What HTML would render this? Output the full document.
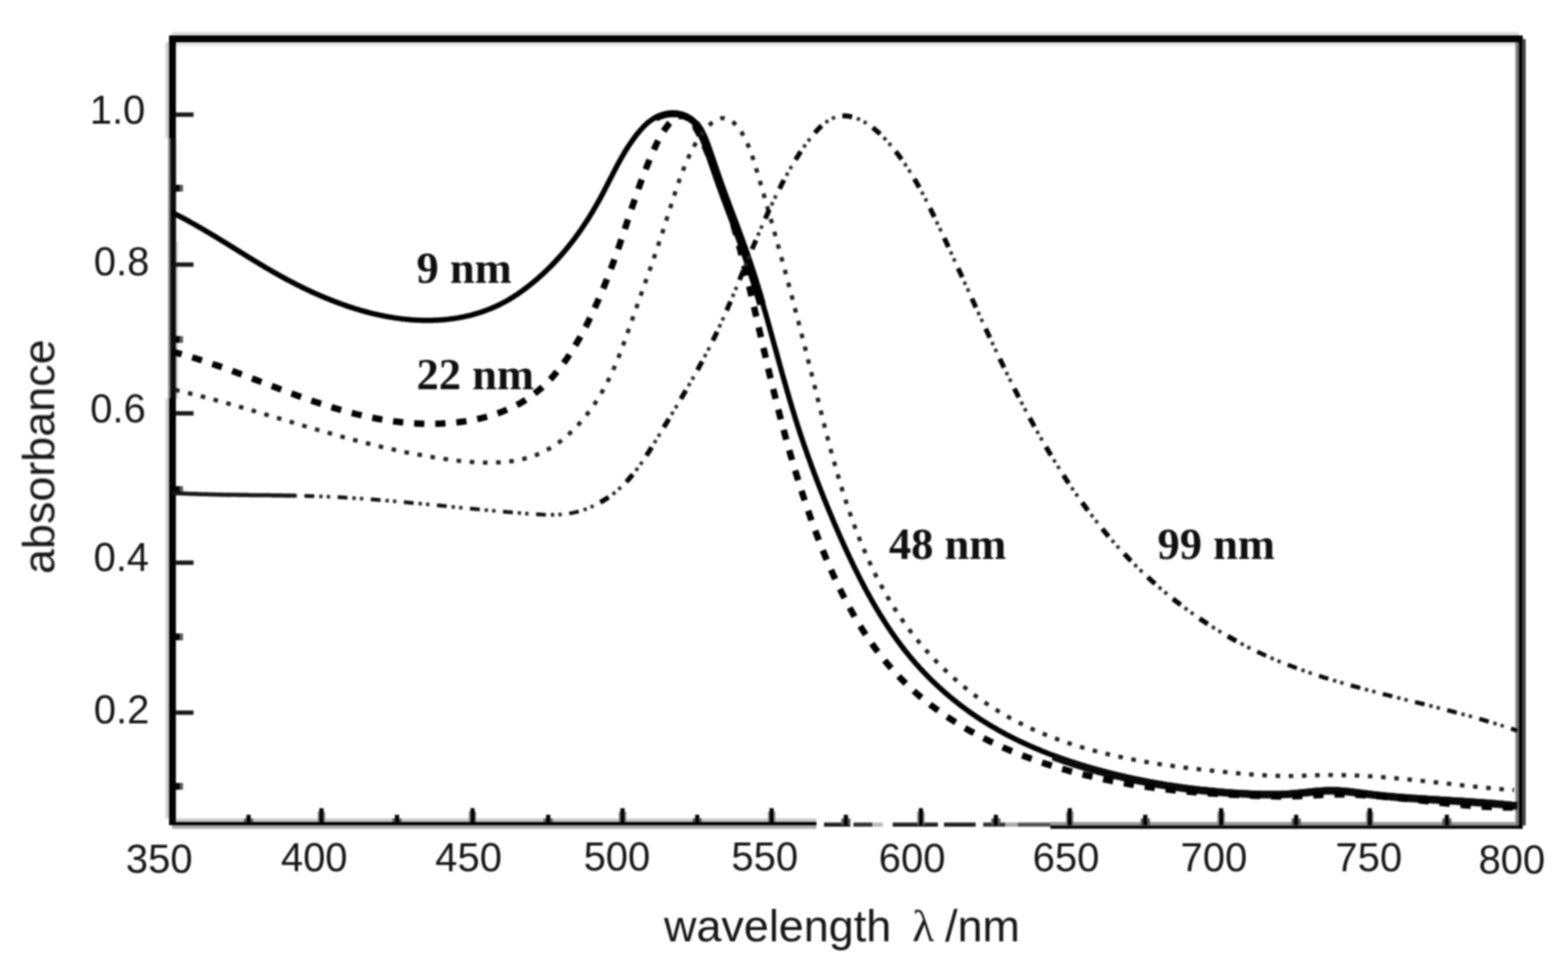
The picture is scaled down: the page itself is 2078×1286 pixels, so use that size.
<!DOCTYPE html>
<html lang="en">
<head>
<meta charset="utf-8">
<title>Absorbance spectra of gold nanoparticles</title>
<style>
html,body{margin:0;padding:0;background:#fff;}
body{width:2078px;height:1286px;overflow:hidden;}
svg{display:block;}
.tick{font-family:"Liberation Sans",sans-serif;font-size:53px;fill:#161616;}
.axl{font-family:"Liberation Sans",sans-serif;font-size:59.5px;fill:#161616;}
.lab{font-family:"Liberation Serif",serif;font-weight:bold;font-size:59px;fill:#101010;}
</style>
</head>
<body>
<svg width="2078" height="1286" viewBox="0 0 2078 1286">
<defs>
<filter id="soft" x="0" y="0" width="2078" height="1286" filterUnits="userSpaceOnUse" color-interpolation-filters="sRGB">
<feGaussianBlur stdDeviation="1.2"/>
</filter>
</defs>
<rect width="2078" height="1286" fill="#fff"/>
<g id="chart" filter="url(#soft)">

<g id="frame">
<rect x="228.0" y="42.3" width="1785.0" height="4.7" fill="#dcdcdc"/>
<rect x="233.0" y="56.0" width="1775.4" height="4.7" fill="#e4e4e4"/>
<rect x="224.1" y="47.0" width="1793.7" height="9.0" fill="#000"/>
<rect x="219.4" y="56.0" width="4.7" height="127.0" fill="#cfcfcf"/>
<rect x="219.4" y="528.0" width="4.7" height="557.0" fill="#cfcfcf"/>
<rect x="224.1" y="47.0" width="9.0" height="136.0" fill="#000"/>
<rect x="224.1" y="528.0" width="9.0" height="566.0" fill="#000"/>
<rect x="222.8" y="183.0" width="2.8" height="345.0" fill="#8a8a8a"/>
<rect x="225.6" y="183.0" width="7.7" height="345.0" fill="#0c0c0c"/>
<rect x="233.3" y="320.0" width="2.3" height="208.0" fill="#c4c4c4"/>
<rect x="2008.4" y="56.0" width="4.6" height="1038.4" fill="#7a7a7a"/>
<rect x="2013.0" y="47.0" width="4.8" height="1051.7" fill="#000"/>
<rect x="2017.8" y="51.7" width="4.2" height="1042.7" fill="#464646"/>
<rect x="233.1" y="1085.0" width="848.9" height="4.7" fill="#cccccc"/>
<rect x="224.1" y="1089.7" width="857.9" height="4.3" fill="#000"/>
<rect x="228.0" y="1094.0" width="854.0" height="4.7" fill="#aaaaaa"/>
<rect x="1092.0" y="1090.5" width="35.0" height="5.5" fill="#222"/>
<rect x="1131.0" y="1090.5" width="25.0" height="5.5" fill="#333"/>
<rect x="1156.0" y="1090.5" width="14.0" height="5.5" fill="#bbb"/>
<rect x="1183.0" y="1090.5" width="60.0" height="5.5" fill="#222"/>
<rect x="1251.0" y="1090.5" width="42.0" height="5.5" fill="#222"/>
<rect x="1303.0" y="1090.5" width="29.0" height="5.5" fill="#333"/>
<rect x="1332.0" y="1090.5" width="17.0" height="5.5" fill="#aaa"/>
<rect x="1349.0" y="1090.5" width="43.0" height="5.5" fill="#555"/>
<rect x="1392.0" y="1089.7" width="616.4" height="4.7" fill="#999999"/>
<rect x="1392.0" y="1094.4" width="625.8" height="4.3" fill="#000"/>
</g>
<g id="ticks">
<rect x="326.6" y="1080.2" width="5.6" height="9.8" fill="#000"/>
<rect x="323.4" y="1085.0" width="3.2" height="5.0" fill="#555"/>
<rect x="332.2" y="1085.0" width="3.2" height="5.0" fill="#555"/>
<rect x="423.2" y="1071.5" width="5.6" height="18.5" fill="#000"/>
<rect x="421.2" y="1076.0" width="2.0" height="14.0" fill="#777"/>
<rect x="428.8" y="1076.0" width="2.0" height="14.0" fill="#777"/>
<rect x="523.3" y="1080.2" width="5.6" height="9.8" fill="#000"/>
<rect x="520.1" y="1085.0" width="3.2" height="5.0" fill="#555"/>
<rect x="528.9" y="1085.0" width="3.2" height="5.0" fill="#555"/>
<rect x="623.4" y="1071.5" width="5.6" height="18.5" fill="#000"/>
<rect x="621.4" y="1076.0" width="2.0" height="14.0" fill="#777"/>
<rect x="629.0" y="1076.0" width="2.0" height="14.0" fill="#777"/>
<rect x="723.7" y="1080.2" width="5.6" height="9.8" fill="#000"/>
<rect x="720.5" y="1085.0" width="3.2" height="5.0" fill="#555"/>
<rect x="729.3" y="1085.0" width="3.2" height="5.0" fill="#555"/>
<rect x="822.2" y="1071.5" width="5.6" height="18.5" fill="#000"/>
<rect x="820.2" y="1076.0" width="2.0" height="14.0" fill="#777"/>
<rect x="827.8" y="1076.0" width="2.0" height="14.0" fill="#777"/>
<rect x="921.2" y="1080.2" width="5.6" height="9.8" fill="#000"/>
<rect x="918.0" y="1085.0" width="3.2" height="5.0" fill="#555"/>
<rect x="926.8" y="1085.0" width="3.2" height="5.0" fill="#555"/>
<rect x="1019.8" y="1071.5" width="5.6" height="18.5" fill="#000"/>
<rect x="1017.8" y="1076.0" width="2.0" height="14.0" fill="#777"/>
<rect x="1025.4" y="1076.0" width="2.0" height="14.0" fill="#777"/>
<rect x="1118.2" y="1080.2" width="5.6" height="13.8" fill="#000"/>
<rect x="1115.0" y="1085.0" width="3.2" height="9.0" fill="#555"/>
<rect x="1123.8" y="1085.0" width="3.2" height="9.0" fill="#555"/>
<rect x="1217.6" y="1071.5" width="5.6" height="22.5" fill="#000"/>
<rect x="1215.6" y="1076.0" width="2.0" height="18.0" fill="#777"/>
<rect x="1223.2" y="1076.0" width="2.0" height="18.0" fill="#777"/>
<rect x="1317.0" y="1080.2" width="5.6" height="13.8" fill="#000"/>
<rect x="1313.8" y="1085.0" width="3.2" height="9.0" fill="#555"/>
<rect x="1322.6" y="1085.0" width="3.2" height="9.0" fill="#555"/>
<rect x="1414.9" y="1071.5" width="5.6" height="22.5" fill="#000"/>
<rect x="1412.9" y="1076.0" width="2.0" height="18.0" fill="#777"/>
<rect x="1420.5" y="1076.0" width="2.0" height="18.0" fill="#777"/>
<rect x="1515.0" y="1080.2" width="5.6" height="13.8" fill="#000"/>
<rect x="1511.8" y="1085.0" width="3.2" height="9.0" fill="#555"/>
<rect x="1520.6" y="1085.0" width="3.2" height="9.0" fill="#555"/>
<rect x="1615.5" y="1071.5" width="5.6" height="22.5" fill="#000"/>
<rect x="1613.5" y="1076.0" width="2.0" height="18.0" fill="#777"/>
<rect x="1621.1" y="1076.0" width="2.0" height="18.0" fill="#777"/>
<rect x="1714.9" y="1080.2" width="5.6" height="13.8" fill="#000"/>
<rect x="1711.7" y="1085.0" width="3.2" height="9.0" fill="#555"/>
<rect x="1720.5" y="1085.0" width="3.2" height="9.0" fill="#555"/>
<rect x="1812.5" y="1071.5" width="5.6" height="22.5" fill="#000"/>
<rect x="1810.5" y="1076.0" width="2.0" height="18.0" fill="#777"/>
<rect x="1818.1" y="1076.0" width="2.0" height="18.0" fill="#777"/>
<rect x="1914.6" y="1080.2" width="5.6" height="13.8" fill="#000"/>
<rect x="1911.4" y="1085.0" width="3.2" height="9.0" fill="#555"/>
<rect x="1920.2" y="1085.0" width="3.2" height="9.0" fill="#555"/>
<rect x="233.1" y="1038.0" width="5.4" height="9.0" fill="#000"/>
<rect x="238.5" y="1038.0" width="4.0" height="9.0" fill="#555"/>
<rect x="233.1" y="941.9" width="23.4" height="5.8" fill="#1a1a1a"/>
<rect x="233.1" y="839.8" width="5.4" height="9.0" fill="#000"/>
<rect x="238.5" y="839.8" width="4.0" height="9.0" fill="#555"/>
<rect x="233.1" y="743.1" width="23.4" height="5.8" fill="#1a1a1a"/>
<rect x="233.1" y="644.5" width="5.4" height="9.0" fill="#000"/>
<rect x="238.5" y="644.5" width="4.0" height="9.0" fill="#555"/>
<rect x="233.1" y="545.1" width="23.4" height="5.8" fill="#1a1a1a"/>
<rect x="233.1" y="445.5" width="5.4" height="9.0" fill="#000"/>
<rect x="238.5" y="445.5" width="4.0" height="9.0" fill="#555"/>
<rect x="233.1" y="347.9" width="23.4" height="5.8" fill="#1a1a1a"/>
<rect x="233.1" y="245.0" width="5.4" height="9.0" fill="#000"/>
<rect x="238.5" y="245.0" width="4.0" height="9.0" fill="#555"/>
<rect x="233.1" y="149.1" width="23.4" height="5.8" fill="#1a1a1a"/>
</g>
<g class="tick">
<text x="211.0" y="1157" text-anchor="middle">350</text>
<text x="416.4" y="1155" text-anchor="middle">400</text>
<text x="621.0" y="1155" text-anchor="middle">450</text>
<text x="817.6" y="1154" text-anchor="middle">500</text>
<text x="1013.5" y="1154" text-anchor="middle">550</text>
<text x="1208.7" y="1156" text-anchor="middle">600</text>
<text x="1412.7" y="1155" text-anchor="middle">650</text>
<text x="1608.8" y="1155" text-anchor="middle">700</text>
<text x="1814.0" y="1155" text-anchor="middle">750</text>
<text x="2003.6" y="1158" text-anchor="middle">800</text>
<text x="192.6" y="164.0" text-anchor="end">1.0</text>
<text x="198.0" y="365.0" text-anchor="end">0.8</text>
<text x="193.3" y="559.5" text-anchor="end">0.6</text>
<text x="197.6" y="756.5" text-anchor="end">0.4</text>
<text x="198.0" y="958.5" text-anchor="end">0.2</text>
</g>
<text class="axl" transform="translate(71.8,605.5) rotate(-90)" text-anchor="middle">absorbance</text>
<text class="axl" y="1248"><tspan x="880">wavelength</tspan><tspan> </tspan><tspan x="1209" font-family="'Liberation Serif',serif" font-size="60px">λ</tspan><tspan> </tspan><tspan x="1252.5">/nm</tspan></text>
<g id="curves" fill="none" stroke="#000" stroke-linejoin="round">
<path d="M227.8,281.6 L229.8,282.5 L231.7,283.5 L233.6,284.5 L235.5,285.5 L237.4,286.4 L239.3,287.4 L241.2,288.4 L243.0,289.4 L244.9,290.4 L246.8,291.4 L248.6,292.4 L250.5,293.4 L252.3,294.5 L254.1,295.5 L256.0,296.5 L257.8,297.5 L259.6,298.6 L261.4,299.6 L263.2,300.6 L265.1,301.7 L266.9,302.7 L268.6,303.8 L270.4,304.8 L272.2,305.9 L274.0,306.9 L275.8,308.0 L277.6,309.0 L279.3,310.1 L281.1,311.2 L282.9,312.2 L284.6,313.3 L286.4,314.3 L288.1,315.4 L289.9,316.5 L291.6,317.6 L293.4,318.6 L295.1,319.7 L296.9,320.8 L298.6,321.9 L300.4,322.9 L302.1,324.0 L303.8,325.1 L305.6,326.2 L307.3,327.2 L309.1,328.3 L310.8,329.4 L312.5,330.5 L314.2,331.5 L316.0,332.6 L317.7,333.7 L319.4,334.8 L321.2,335.8 L322.9,336.9 L324.6,338.0 L326.4,339.1 L328.1,340.1 L329.8,341.2 L331.6,342.3 L333.3,343.3 L335.1,344.4 L336.8,345.5 L338.5,346.5 L340.3,347.6 L342.0,348.6 L343.8,349.7 L345.5,350.7 L347.3,351.8 L349.0,352.8 L350.8,353.9 L352.5,354.9 L354.3,356.0 L356.1,357.0 L357.8,358.0 L359.6,359.0 L361.4,360.1 L363.2,361.1 L365.0,362.1 L366.8,363.1 L368.5,364.1 L370.3,365.1 L372.1,366.1 L374.0,367.1 L375.8,368.1 L377.6,369.1 L379.4,370.1 L381.2,371.1 L383.1,372.0 L384.9,373.0 L386.7,374.0 L388.6,374.9 L390.4,375.9 L392.3,376.8 L394.2,377.8 L396.0,378.7 L397.9,379.6 L399.8,380.6 L401.6,381.5 L403.5,382.4 L405.4,383.3 L407.3,384.2 L409.2,385.1 L411.1,386.0 L413.0,386.9 L414.9,387.7 L416.8,388.6 L418.7,389.5 L420.6,390.3 L422.5,391.1 L424.5,392.0 L426.4,392.8 L428.3,393.6 L430.3,394.4 L432.2,395.2 L434.1,396.0 L436.1,396.8 L438.0,397.6 L440.0,398.4 L441.9,399.1 L443.9,399.9 L445.9,400.6 L447.8,401.4 L449.8,402.1 L451.7,402.8 L453.7,403.5 L455.7,404.2 L457.7,404.9 L459.6,405.6 L461.6,406.3 L463.6,406.9 L465.6,407.6 L467.6,408.2 L469.6,408.9 L471.6,409.5 L473.6,410.1 L475.6,410.7 L477.6,411.3 L479.6,411.8 L481.6,412.4 L483.6,413.0 L485.6,413.5 L487.6,414.0 L489.6,414.6 L491.6,415.1 L493.7,415.6 L495.7,416.1 L497.7,416.5 L499.7,417.0 L501.7,417.4 L503.8,417.9 L505.8,418.3 L507.8,418.7 L509.9,419.1 L511.9,419.5 L513.9,419.9 L516.0,420.3 L518.0,420.6 L520.0,420.9 L522.1,421.3 L524.1,421.6 L526.2,421.9 L528.2,422.1 L530.2,422.4 L532.3,422.7 L534.3,422.9 L536.4,423.1 L538.4,423.4 L540.5,423.5 L542.5,423.7 L544.5,423.9 L546.6,424.1 L548.6,424.2 L550.7,424.3 L552.7,424.4 L554.8,424.5 L556.8,424.6 L558.9,424.7 L560.9,424.7 L563.0,424.7 L565.0,424.8 L567.1,424.8 L569.1,424.7 L571.2,424.7 L573.2,424.7 L575.3,424.6 L577.3,424.5 L579.4,424.4 L581.4,424.3 L583.5,424.2 L585.5,424.0 L587.6,423.9 L589.6,423.7 L591.6,423.5 L593.7,423.3 L595.7,423.0 L597.7,422.8 L599.8,422.5 L601.8,422.2 L603.8,421.9 L605.8,421.6 L607.9,421.2 L609.9,420.9 L611.9,420.5 L613.9,420.1 L615.9,419.7 L617.9,419.2 L619.9,418.8 L621.9,418.3 L623.9,417.8 L625.9,417.3 L627.8,416.7 L629.8,416.2 L631.8,415.6 L633.7,415.0 L635.7,414.4 L637.7,413.8 L639.6,413.1 L641.6,412.4 L643.5,411.7 L645.4,411.0 L647.3,410.3 L649.3,409.5 L651.2,408.7 L653.1,407.9 L655.0,407.1 L656.9,406.3 L658.8,405.4 L660.6,404.5 L662.5,403.6 L664.4,402.7 L666.2,401.7 L668.1,400.7 L669.9,399.7 L671.7,398.7 L673.5,397.7 L675.4,396.6 L677.2,395.5 L679.0,394.4 L680.7,393.3 L682.5,392.1 L684.3,391.0 L686.1,389.8 L687.8,388.6 L689.5,387.4 L691.3,386.2 L693.0,384.9 L694.7,383.7 L696.4,382.4 L698.1,381.1 L699.8,379.8 L701.4,378.5 L703.1,377.2 L704.7,375.9 L706.4,374.5 L708.0,373.2 L709.6,371.8 L711.2,370.5 L712.8,369.1 L714.3,367.7 L715.9,366.3 L717.5,364.9 L719.0,363.5 L720.5,362.1 L722.0,360.7 L723.6,359.3 L725.0,357.8 L726.5,356.4 L728.0,354.9 L729.5,353.5 L730.9,352.0 L732.4,350.5 L733.8,349.0 L735.2,347.5 L736.6,346.0 L738.0,344.5 L739.4,343.0 L740.8,341.5 L742.2,339.9 L743.5,338.4 L744.9,336.9 L746.2,335.3 L747.5,333.7 L748.9,332.2 L750.2,330.6 L751.5,329.0 L752.8,327.4 L754.1,325.8 L755.3,324.2 L756.6,322.6 L757.9,321.0 L759.1,319.4 L760.3,317.8 L761.6,316.1 L762.8,314.5 L764.0,312.8 L765.2,311.2 L766.4,309.5 L767.6,307.8 L768.8,306.2 L769.9,304.5 L771.1,302.8 L772.2,301.1 L773.4,299.4 L774.5,297.7 L775.6,296.0 L776.8,294.3 L777.9,292.5 L779.0,290.8 L780.1,289.1 L781.2,287.3 L782.2,285.6 L783.3,283.8 L784.4,282.1 L785.5,280.3 L786.5,278.5 L787.5,276.7 L788.6,275.0 L789.6,273.2 L790.6,271.4 L791.7,269.6 L792.7,267.8 L793.7,266.0 L794.7,264.2 L795.7,262.3 L796.7,260.5 L797.6,258.7 L798.6,256.9 L799.6,255.0 L800.5,253.2 L801.5,251.3 L802.4,249.5 L803.4,247.6 L804.3,245.8 L805.3,243.9 L806.2,242.1 L807.2,240.2 L808.1,238.4 L809.1,236.5 L810.0,234.7 L811.0,232.8 L811.9,230.9 L812.9,229.1 L813.8,227.2 L814.8,225.4 L815.8,223.5 L816.7,221.7 L817.7,219.8 L818.7,218.0 L819.7,216.2 L820.7,214.3 L821.7,212.5 L822.7,210.7 L823.7,208.9 L824.8,207.1 L825.8,205.3 L826.9,203.5 L827.9,201.7 L829.0,199.9 L830.1,198.2 L831.2,196.4 L832.3,194.6 L833.5,192.9 L834.6,191.2 L835.8,189.5 L837.0,187.7 L838.2,186.0 L839.4,184.4 L840.6,182.7 L841.9,181.0 L843.1,179.4 L844.4,177.7 L845.8,176.1 L847.1,174.5 L848.5,172.9 L849.8,171.3 L851.2,169.8 L852.7,168.2 L854.1,166.8 L855.6,165.3 L857.2,163.9 L858.7,162.5 L860.4,161.2 L862.0,160.0 L863.7,158.8 L865.4,157.6 L867.2,156.6 L869.0,155.6 L870.8,154.6 L872.7,153.8 L874.6,153.0 L876.6,152.3 L878.5,151.7 L880.5,151.1 L882.5,150.7 L884.5,150.3 L886.5,150.0 L888.5,149.8 L890.5,149.7 L892.4,149.7 L894.4,149.7 L896.4,149.9 L898.3,150.1 L900.3,150.5 L902.2,150.9 L904.1,151.4 L905.9,152.1 L907.7,152.8 L909.5,153.5 L911.2,154.4 L912.9,155.4 L914.5,156.4 L916.1,157.5 L917.6,158.7 L919.1,160.0 L920.5,161.3 L921.8,162.7 L923.1,164.2 L924.3,165.7 L925.5,167.3 L926.7,169.0 L927.8,170.7 L928.9,172.4 L929.9,174.2 L930.9,176.0 L931.8,177.9 L932.7,179.8 L933.6,181.7 L934.5,183.7 L935.3,185.7 L936.1,187.7 L936.9,189.7 L937.7,191.7 L938.4,193.8 L939.2,195.8 L939.9,197.9 L940.6,199.9 L941.3,202.0 L942.0,204.0 L942.7,206.0 L943.4,208.0 L944.1,210.0 L944.8,212.0 L945.4,214.0 L946.1,216.0 L946.8,218.0 L947.5,219.9 L948.1,221.9 L948.8,223.9 L949.5,225.8 L950.1,227.7 L950.8,229.7 L951.5,231.6 L952.2,233.5 L952.8,235.5 L953.5,237.4 L954.2,239.3 L954.9,241.2 L955.5,243.1 L956.2,245.1 L956.9,247.0 L957.6,248.9 L958.3,250.8 L959.0,252.8 L959.7,254.7 L960.4,256.6 L961.1,258.5 L961.8,260.5 L962.5,262.4 L963.2,264.3 L964.0,266.2 L964.7,268.2 L965.4,270.1 L966.1,272.0 L966.8,274.0 L967.6,275.9 L968.3,277.8 L969.0,279.8 L969.7,281.7 L970.5,283.6 L971.2,285.6 L971.9,287.5 L972.6,289.4 L973.4,291.4 L974.1,293.3 L974.8,295.3 L975.6,297.2 L976.3,299.1 L977.0,301.1 L977.7,303.0 L978.5,305.0 L979.2,306.9 L979.9,308.9 L980.6,310.8 L981.3,312.8 L982.1,314.7 L982.8,316.7 L983.5,318.6 L984.2,320.6 L984.9,322.5 L985.6,324.5 L986.3,326.4 L987.0,328.4 L987.7,330.3 L988.4,332.3 L989.1,334.2 L989.8,336.2 L990.5,338.2 L991.1,340.1 L991.8,342.1 L992.5,344.0 L993.2,346.0 L993.8,348.0 L994.5,349.9 L995.1,351.9 L995.8,353.9 L996.4,355.8 L997.1,357.8 L997.7,359.8 L998.4,361.7 L999.0,363.7 L999.6,365.7 L1000.2,367.7 L1000.9,369.6 L1001.5,371.6 L1002.1,373.6 L1002.7,375.5 L1003.3,377.5 L1003.9,379.5 L1004.5,381.5 L1005.1,383.4 L1005.7,385.4 L1006.3,387.4 L1006.9,389.4 L1007.5,391.4 L1008.1,393.3 L1008.7,395.3 L1009.3,397.3 L1009.9,399.3 L1010.4,401.3 L1011.0,403.2 L1011.6,405.2 L1012.2,407.2 L1012.7,409.2 L1013.3,411.2 L1013.9,413.2 L1014.5,415.1 L1015.0,417.1 L1015.6,419.1 L1016.1,421.1 L1016.7,423.1 L1017.3,425.1 L1017.8,427.1 L1018.4,429.0 L1018.9,431.0 L1019.5,433.0 L1020.0,435.0 L1020.6,437.0 L1021.1,439.0 L1021.7,441.0 L1022.2,443.0 L1022.8,444.9 L1023.3,446.9 L1023.9,448.9 L1024.4,450.9 L1025.0,452.9 L1025.5,454.9 L1026.1,456.9 L1026.6,458.9 L1027.2,460.9 L1027.7,462.9 L1028.3,464.8 L1028.8,466.8 L1029.4,468.8 L1029.9,470.8 L1030.4,472.8 L1031.0,474.8 L1031.5,476.8 L1032.1,478.8 L1032.6,480.8 L1033.2,482.8 L1033.7,484.7 L1034.3,486.7 L1034.8,488.7 L1035.4,490.7 L1035.9,492.7 L1036.5,494.7 L1037.0,496.7 L1037.6,498.7 L1038.2,500.7 L1038.7,502.7 L1039.3,504.6 L1039.8,506.6 L1040.4,508.6 L1041.0,510.6 L1041.5,512.6 L1042.1,514.6 L1042.7,516.6 L1043.2,518.6 L1043.8,520.5 L1044.4,522.5 L1045.0,524.5 L1045.5,526.5 L1046.1,528.5 L1046.7,530.5 L1047.3,532.5 L1047.9,534.4 L1048.5,536.4 L1049.1,538.4 L1049.7,540.4 L1050.3,542.4 L1050.9,544.3 L1051.5,546.3 L1052.1,548.3 L1052.7,550.3 L1053.3,552.3 L1053.9,554.3 L1054.5,556.2 L1055.1,558.2 L1055.8,560.2 L1056.4,562.2 L1057.0,564.1 L1057.7,566.1 L1058.3,568.1 L1058.9,570.1 L1059.6,572.0 L1060.2,574.0 L1060.9,576.0 L1061.5,578.0 L1062.2,579.9 L1062.9,581.9 L1063.5,583.9 L1064.2,585.8 L1064.9,587.8 L1065.5,589.8 L1066.2,591.7 L1066.9,593.7 L1067.6,595.7 L1068.3,597.6 L1069.0,599.6 L1069.7,601.6 L1070.3,603.5 L1071.0,605.5 L1071.8,607.4 L1072.5,609.4 L1073.2,611.4 L1073.9,613.3 L1074.6,615.3 L1075.3,617.2 L1076.0,619.2 L1076.7,621.1 L1077.5,623.1 L1078.2,625.0 L1078.9,627.0 L1079.7,628.9 L1080.4,630.9 L1081.1,632.8 L1081.9,634.8 L1082.6,636.7 L1083.4,638.7 L1084.1,640.6 L1084.9,642.5 L1085.6,644.5 L1086.4,646.4 L1087.1,648.4 L1087.9,650.3 L1088.7,652.2 L1089.4,654.2 L1090.2,656.1 L1091.0,658.0 L1091.7,660.0 L1092.5,661.9 L1093.3,663.8 L1094.1,665.7 L1094.9,667.7 L1095.6,669.6 L1096.4,671.5 L1097.2,673.4 L1098.0,675.4 L1098.8,677.3 L1099.6,679.2 L1100.4,681.1 L1101.2,683.0 L1102.0,684.9 L1102.8,686.8 L1103.6,688.8 L1104.4,690.7 L1105.2,692.6 L1106.0,694.5 L1106.9,696.4 L1107.7,698.3 L1108.5,700.2 L1109.3,702.1 L1110.1,704.0 L1111.0,705.9 L1111.8,707.8 L1112.6,709.7 L1113.5,711.6 L1114.3,713.5 L1115.1,715.3 L1116.0,717.2 L1116.8,719.1 L1117.7,721.0 L1118.5,722.9 L1119.4,724.8 L1120.2,726.6 L1121.1,728.5 L1122.0,730.4 L1122.8,732.3 L1123.7,734.1 L1124.6,736.0 L1125.5,737.9 L1126.3,739.7 L1127.2,741.6 L1128.1,743.5 L1129.0,745.3 L1129.9,747.2 L1130.8,749.0 L1131.7,750.9 L1132.6,752.7 L1133.5,754.6 L1134.4,756.4 L1135.3,758.3 L1136.3,760.1 L1137.2,762.0 L1138.1,763.8 L1139.0,765.7 L1140.0,767.5 L1140.9,769.3 L1141.9,771.2 L1142.8,773.0 L1143.8,774.8 L1144.7,776.6 L1145.7,778.5 L1146.7,780.3 L1147.6,782.1 L1148.6,783.9 L1149.6,785.7 L1150.6,787.5 L1151.6,789.3 L1152.6,791.1 L1153.6,792.9 L1154.6,794.7 L1155.6,796.5 L1156.6,798.3 L1157.6,800.1 L1158.7,801.9 L1159.7,803.6 L1160.7,805.4 L1161.8,807.2 L1162.8,808.9 L1163.9,810.7 L1165.0,812.5 L1166.0,814.2 L1167.1,816.0 L1168.2,817.7 L1169.3,819.5 L1170.4,821.2 L1171.5,822.9 L1172.6,824.7 L1173.7,826.4 L1174.8,828.1 L1175.9,829.8 L1177.1,831.6 L1178.2,833.3 L1179.4,835.0 L1180.5,836.7 L1181.7,838.4 L1182.9,840.1 L1184.0,841.7 L1185.2,843.4 L1186.4,845.1 L1187.6,846.8 L1188.8,848.4 L1190.0,850.1 L1191.2,851.8 L1192.5,853.4 L1193.7,855.1 L1194.9,856.7 L1196.2,858.3 L1197.5,860.0 L1198.7,861.6 L1200.0,863.2 L1201.3,864.8 L1202.6,866.4 L1203.9,868.0 L1205.2,869.6 L1206.5,871.2 L1207.8,872.8 L1209.2,874.4 L1210.5,875.9 L1211.8,877.5 L1213.2,879.1 L1214.6,880.6 L1215.9,882.2 L1217.3,883.7 L1218.7,885.3 L1220.1,886.8 L1221.5,888.3 L1223.0,889.8 L1224.4,891.3 L1225.8,892.8 L1227.3,894.3 L1228.7,895.8 L1230.2,897.3 L1231.6,898.8 L1233.1,900.2 L1234.6,901.7 L1236.1,903.2 L1237.6,904.6 L1239.1,906.0 L1240.6,907.5 L1242.1,908.9 L1243.6,910.3 L1245.2,911.7 L1246.7,913.1 L1248.3,914.5 L1249.8,915.9 L1251.4,917.3 L1252.9,918.7 L1254.5,920.0 L1256.1,921.4 L1257.7,922.7 L1259.3,924.1 L1260.9,925.4 L1262.5,926.7 L1264.1,928.0 L1265.7,929.3 L1267.4,930.6 L1269.0,931.9 L1270.6,933.2 L1272.3,934.5 L1273.9,935.8 L1275.6,937.0 L1277.3,938.3 L1278.9,939.5 L1280.6,940.7 L1282.3,942.0 L1284.0,943.2 L1285.7,944.4 L1287.4,945.6 L1289.1,946.8 L1290.8,947.9 L1292.5,949.1 L1294.2,950.3 L1296.0,951.4 L1297.7,952.6 L1299.4,953.7 L1301.2,954.8 L1302.9,955.9 L1304.7,957.0 L1306.4,958.1 L1308.2,959.2 L1309.9,960.3 L1311.7,961.4 L1313.5,962.4 L1315.3,963.5 L1317.1,964.5 L1318.9,965.6 L1320.6,966.6 L1322.4,967.6 L1324.2,968.6 L1326.1,969.6 L1327.9,970.6 L1329.7,971.6 L1331.5,972.6 L1333.3,973.6 L1335.2,974.6 L1337.0,975.5 L1338.8,976.5 L1340.7,977.4 L1342.5,978.3 L1344.4,979.3 L1346.2,980.2 L1348.1,981.1 L1350.0,982.0 L1351.8,982.9 L1353.7,983.8 L1355.6,984.6 L1357.4,985.5 L1359.3,986.4 L1361.2,987.2 L1363.1,988.1 L1365.0,988.9 L1366.9,989.8 L1368.8,990.6 L1370.7,991.4 L1372.6,992.2 L1374.5,993.0 L1376.4,993.8 L1378.3,994.6 L1380.2,995.4 L1382.1,996.2 L1384.1,996.9 L1386.0,997.7 L1387.9,998.5 L1389.8,999.2 L1391.8,1000.0 L1393.7,1000.7 L1395.7,1001.4 L1397.6,1002.2 L1399.5,1002.9 L1401.5,1003.6 L1403.4,1004.3 L1405.4,1005.0 L1407.3,1005.7 L1409.3,1006.4 L1411.3,1007.0 L1413.2,1007.7 L1415.2,1008.4 L1417.1,1009.0 L1419.1,1009.7 L1421.1,1010.3 L1423.0,1011.0 L1425.0,1011.6 L1427.0,1012.3 L1429.0,1012.9 L1430.9,1013.5 L1432.9,1014.1 L1434.9,1014.7 L1436.9,1015.3 L1438.9,1015.9 L1440.9,1016.5 L1442.9,1017.1 L1444.8,1017.7 L1446.8,1018.2 L1448.8,1018.8 L1450.8,1019.4 L1452.8,1019.9 L1454.8,1020.5 L1456.8,1021.0 L1458.8,1021.6 L1460.8,1022.1 L1462.8,1022.6 L1464.8,1023.1 L1466.8,1023.7 L1468.8,1024.2 L1470.8,1024.7 L1472.8,1025.2 L1474.8,1025.7 L1476.8,1026.2 L1478.8,1026.7 L1480.8,1027.2 L1482.8,1027.6 L1484.9,1028.1 L1486.9,1028.6 L1488.9,1029.0 L1490.9,1029.5 L1492.9,1030.0 L1494.9,1030.4 L1496.9,1030.8 L1498.9,1031.3 L1501.0,1031.7 L1503.0,1032.1 L1505.0,1032.6 L1507.0,1033.0 L1509.0,1033.4 L1511.1,1033.8 L1513.1,1034.2 L1515.1,1034.6 L1517.1,1035.0 L1519.2,1035.4 L1521.2,1035.8 L1523.2,1036.2 L1525.2,1036.5 L1527.3,1036.9 L1529.3,1037.3 L1531.3,1037.6 L1533.3,1038.0 L1535.4,1038.4 L1537.4,1038.7 L1539.4,1039.0 L1541.5,1039.4 L1543.5,1039.7 L1545.5,1040.1 L1547.6,1040.4 L1549.6,1040.7 L1551.6,1041.0 L1553.7,1041.3 L1555.7,1041.6 L1557.7,1041.9 L1559.8,1042.2 L1561.8,1042.5 L1563.9,1042.8 L1565.9,1043.1 L1567.9,1043.4 L1570.0,1043.6 L1572.0,1043.9 L1574.1,1044.2 L1576.1,1044.4 L1578.2,1044.7 L1580.2,1045.0 L1582.2,1045.2 L1584.3,1045.4 L1586.3,1045.7 L1588.4,1045.9 L1590.4,1046.2 L1592.5,1046.4 L1594.5,1046.6 L1596.6,1046.8 L1598.6,1047.0 L1600.7,1047.2 L1602.7,1047.4 L1604.8,1047.6 L1606.8,1047.8 L1608.9,1048.0 L1610.9,1048.2 L1613.0,1048.4 L1615.0,1048.6 L1617.1,1048.8 L1619.2,1048.9 L1621.2,1049.1 L1623.3,1049.3 L1625.3,1049.4 L1627.4,1049.6 L1629.4,1049.7 L1631.5,1049.9 L1633.6,1050.0 L1635.6,1050.2 L1637.7,1050.3 L1639.7,1050.4 L1641.8,1050.6 L1643.8,1050.7 L1645.9,1050.8 L1648.0,1050.9 L1650.0,1051.0 L1652.1,1051.1 L1654.2,1051.2 L1656.2,1051.3 L1658.3,1051.4 L1660.3,1051.5 L1662.4,1051.6 L1664.5,1051.7 L1666.5,1051.7 L1668.6,1051.8 L1670.7,1051.8 L1672.7,1051.9 L1674.8,1051.9 L1676.9,1052.0 L1678.9,1052.0 L1681.0,1052.0 L1683.1,1052.0 L1685.1,1052.0 L1687.2,1052.0 L1689.3,1052.0 L1691.3,1051.9 L1693.4,1051.9 L1695.5,1051.9 L1697.5,1051.8 L1699.6,1051.7 L1701.7,1051.6 L1703.7,1051.5 L1705.8,1051.4 L1707.9,1051.3 L1709.9,1051.2 L1712.0,1051.0 L1714.1,1050.9 L1716.1,1050.7 L1718.2,1050.5 L1720.3,1050.3 L1722.4,1050.1 L1724.4,1049.9 L1726.5,1049.7 L1728.6,1049.5 L1730.6,1049.3 L1732.7,1049.1 L1734.8,1048.8 L1736.9,1048.6 L1738.9,1048.4 L1741.0,1048.2 L1743.1,1048.0 L1745.1,1047.8 L1747.2,1047.7 L1749.3,1047.5 L1751.4,1047.4 L1753.4,1047.2 L1755.5,1047.1 L1757.6,1047.0 L1759.6,1046.9 L1761.7,1046.9 L1763.8,1046.9 L1765.9,1046.9 L1767.9,1046.9 L1770.0,1046.9 L1772.1,1047.0 L1774.2,1047.1 L1776.2,1047.2 L1778.3,1047.4 L1780.4,1047.5 L1782.4,1047.7 L1784.5,1047.9 L1786.6,1048.1 L1788.7,1048.3 L1790.7,1048.6 L1792.8,1048.8 L1794.9,1049.1 L1796.9,1049.3 L1799.0,1049.6 L1801.1,1049.9 L1803.2,1050.1 L1805.2,1050.4 L1807.3,1050.7 L1809.4,1050.9 L1811.5,1051.2 L1813.5,1051.5 L1815.6,1051.8 L1817.7,1052.0 L1819.7,1052.3 L1821.8,1052.5 L1823.9,1052.7 L1825.9,1053.0 L1828.0,1053.2 L1830.1,1053.4 L1832.2,1053.6 L1834.2,1053.9 L1836.3,1054.1 L1838.4,1054.3 L1840.4,1054.5 L1842.5,1054.6 L1844.6,1054.8 L1846.6,1055.0 L1848.7,1055.2 L1850.8,1055.4 L1852.9,1055.5 L1854.9,1055.7 L1857.0,1055.9 L1859.1,1056.0 L1861.1,1056.2 L1863.2,1056.3 L1865.3,1056.5 L1867.3,1056.6 L1869.4,1056.8 L1871.5,1056.9 L1873.5,1057.1 L1875.6,1057.2 L1877.6,1057.3 L1879.7,1057.5 L1881.8,1057.6 L1883.8,1057.7 L1885.9,1057.9 L1888.0,1058.0 L1890.0,1058.1 L1892.1,1058.3 L1894.2,1058.4 L1896.2,1058.5 L1898.3,1058.6 L1900.3,1058.8 L1902.4,1058.9 L1904.5,1059.0 L1906.5,1059.1 L1908.6,1059.3 L1910.6,1059.4 L1912.7,1059.5 L1914.8,1059.6 L1916.8,1059.8 L1918.9,1059.9 L1920.9,1060.0 L1923.0,1060.2 L1925.0,1060.3 L1927.1,1060.4 L1929.2,1060.5 L1931.2,1060.7 L1933.3,1060.8 L1935.3,1060.9 L1937.4,1061.0 L1939.4,1061.2 L1941.5,1061.3 L1943.5,1061.4 L1945.6,1061.6 L1947.6,1061.7 L1949.7,1061.9 L1951.7,1062.0 L1953.8,1062.1 L1955.8,1062.3 L1957.9,1062.4 L1959.9,1062.6 L1962.0,1062.7 L1964.0,1062.9 L1966.1,1063.0 L1968.1,1063.2 L1970.1,1063.3 L1972.2,1063.5 L1974.2,1063.6 L1976.3,1063.8 L1978.3,1064.0 L1980.4,1064.1 L1982.4,1064.3 L1984.4,1064.5 L1986.5,1064.7 L1988.5,1064.8 L1990.6,1065.0 L1992.6,1065.2 L1994.6,1065.4 L1996.7,1065.6 L1998.7,1065.8 L2000.7,1066.0 L2002.8,1066.2 L2004.8,1066.4 L2006.8,1066.6 L2008.9,1066.8 L2010.9,1067.0" stroke-width="7"/>
<path d="M869.0,156.8 L870.8,155.8 L872.7,155.0 L874.6,154.2 L876.6,153.5 L878.5,152.9 L880.5,152.3 L882.5,151.9 L884.5,151.5 L886.5,151.2 L888.5,151.0 L890.5,150.9 L892.4,150.9 L894.4,150.9 L896.4,151.1 L898.3,151.3 L900.3,151.7 L902.2,152.1 L904.1,152.6 L905.9,153.3 L907.7,154.0 L909.5,154.7 L911.2,155.6 L912.9,156.6 L914.5,157.6 L916.1,158.7 L917.6,159.9 L919.1,161.2 L920.5,162.5 L921.8,163.9 L923.1,165.4 L924.3,166.9 L925.5,168.5 L926.7,170.2 L927.8,171.9" stroke-width="9"/>
<path d="M1395.7,1003.0 L1397.6,1003.8 L1399.5,1004.5 L1401.5,1005.2 L1403.4,1005.9 L1405.4,1006.6 L1407.3,1007.3 L1409.3,1008.0 L1411.3,1008.6 L1413.2,1009.3 L1415.2,1010.0 L1417.1,1010.6 L1419.1,1011.3 L1421.1,1011.9 L1423.0,1012.6 L1425.0,1013.2 L1427.0,1013.9 L1429.0,1014.5 L1430.9,1015.1 L1432.9,1015.7 L1434.9,1016.3 L1436.9,1016.9 L1438.9,1017.5 L1440.9,1018.1 L1442.9,1018.7 L1444.8,1019.3 L1446.8,1019.8 L1448.8,1020.4 L1450.8,1021.0 L1452.8,1021.5 L1454.8,1022.1 L1456.8,1022.6 L1458.8,1023.2 L1460.8,1023.7 L1462.8,1024.2 L1464.8,1024.7 L1466.8,1025.3 L1468.8,1025.8 L1470.8,1026.3 L1472.8,1026.8 L1474.8,1027.3 L1476.8,1027.8 L1478.8,1028.3 L1480.8,1028.8 L1482.8,1029.2 L1484.9,1029.7 L1486.9,1030.2 L1488.9,1030.6 L1490.9,1031.1 L1492.9,1031.6 L1494.9,1032.0 L1496.9,1032.4 L1498.9,1032.9 L1501.0,1033.3 L1503.0,1033.7 L1505.0,1034.2 L1507.0,1034.6 L1509.0,1035.0 L1511.1,1035.4 L1513.1,1035.8 L1515.1,1036.2 L1517.1,1036.6 L1519.2,1037.0 L1521.2,1037.4 L1523.2,1037.8 L1525.2,1038.1 L1527.3,1038.5 L1529.3,1038.9 L1531.3,1039.2 L1533.3,1039.6 L1535.4,1040.0 L1537.4,1040.3 L1539.4,1040.6 L1541.5,1041.0 L1543.5,1041.3 L1545.5,1041.7 L1547.6,1042.0 L1549.6,1042.3 L1551.6,1042.6 L1553.7,1042.9 L1555.7,1043.2 L1557.7,1043.5 L1559.8,1043.8 L1561.8,1044.1 L1563.9,1044.4 L1565.9,1044.7 L1567.9,1045.0 L1570.0,1045.2 L1572.0,1045.5 L1574.1,1045.8 L1576.1,1046.0 L1578.2,1046.3 L1580.2,1046.6 L1582.2,1046.8 L1584.3,1047.0 L1586.3,1047.3 L1588.4,1047.5 L1590.4,1047.8 L1592.5,1048.0 L1594.5,1048.2 L1596.6,1048.4 L1598.6,1048.6 L1600.7,1048.8 L1602.7,1049.0 L1604.8,1049.2 L1606.8,1049.4 L1608.9,1049.6 L1610.9,1049.8 L1613.0,1050.0 L1615.0,1050.2 L1617.1,1050.4 L1619.2,1050.5 L1621.2,1050.7 L1623.3,1050.9 L1625.3,1051.0 L1627.4,1051.2 L1629.4,1051.3 L1631.5,1051.5 L1633.6,1051.6 L1635.6,1051.8 L1637.7,1051.9 L1639.7,1052.0 L1641.8,1052.2 L1643.8,1052.3 L1645.9,1052.4 L1648.0,1052.5 L1650.0,1052.6 L1652.1,1052.7 L1654.2,1052.8 L1656.2,1052.9 L1658.3,1053.0 L1660.3,1053.1 L1662.4,1053.2 L1664.5,1053.3 L1666.5,1053.3 L1668.6,1053.4 L1670.7,1053.4 L1672.7,1053.5 L1674.8,1053.5 L1676.9,1053.6 L1678.9,1053.6 L1681.0,1053.6 L1683.1,1053.6 L1685.1,1053.6 L1687.2,1053.6 L1689.3,1053.6 L1691.3,1053.5 L1693.4,1053.5 L1695.5,1053.5 L1697.5,1053.4 L1699.6,1053.3 L1701.7,1053.2 L1703.7,1053.1 L1705.8,1053.0 L1707.9,1052.9 L1709.9,1052.8 L1712.0,1052.6 L1714.1,1052.5 L1716.1,1052.3 L1718.2,1052.1 L1720.3,1051.9 L1722.4,1051.7 L1724.4,1051.5 L1726.5,1051.3 L1728.6,1051.1 L1730.6,1050.9 L1732.7,1050.7 L1734.8,1050.4 L1736.9,1050.2 L1738.9,1050.0 L1741.0,1049.8 L1743.1,1049.6 L1745.1,1049.4 L1747.2,1049.3 L1749.3,1049.1 L1751.4,1049.0 L1753.4,1048.8 L1755.5,1048.7 L1757.6,1048.6 L1759.6,1048.5 L1761.7,1048.5 L1763.8,1048.5 L1765.9,1048.5 L1767.9,1048.5 L1770.0,1048.5 L1772.1,1048.6 L1774.2,1048.7 L1776.2,1048.8 L1778.3,1049.0 L1780.4,1049.1 L1782.4,1049.3 L1784.5,1049.5 L1786.6,1049.7 L1788.7,1049.9 L1790.7,1050.2 L1792.8,1050.4 L1794.9,1050.7 L1796.9,1050.9 L1799.0,1051.2 L1801.1,1051.5 L1803.2,1051.7 L1805.2,1052.0 L1807.3,1052.3 L1809.4,1052.5 L1811.5,1052.8 L1813.5,1053.1 L1815.6,1053.4 L1817.7,1053.6 L1819.7,1053.9 L1821.8,1054.1 L1823.9,1054.3 L1825.9,1054.6 L1828.0,1054.8 L1830.1,1055.0 L1832.2,1055.2 L1834.2,1055.5 L1836.3,1055.7 L1838.4,1055.9 L1840.4,1056.1 L1842.5,1056.2 L1844.6,1056.4 L1846.6,1056.6 L1848.7,1056.8 L1850.8,1057.0 L1852.9,1057.1 L1854.9,1057.3 L1857.0,1057.5 L1859.1,1057.6 L1861.1,1057.8 L1863.2,1057.9 L1865.3,1058.1 L1867.3,1058.2 L1869.4,1058.4 L1871.5,1058.5 L1873.5,1058.7 L1875.6,1058.8 L1877.6,1058.9 L1879.7,1059.1 L1881.8,1059.2 L1883.8,1059.3 L1885.9,1059.5 L1888.0,1059.6 L1890.0,1059.7 L1892.1,1059.9 L1894.2,1060.0 L1896.2,1060.1 L1898.3,1060.2 L1900.3,1060.4 L1902.4,1060.5 L1904.5,1060.6 L1906.5,1060.7 L1908.6,1060.9 L1910.6,1061.0 L1912.7,1061.1 L1914.8,1061.2 L1916.8,1061.4 L1918.9,1061.5 L1920.9,1061.6 L1923.0,1061.8 L1925.0,1061.9 L1927.1,1062.0 L1929.2,1062.1 L1931.2,1062.3 L1933.3,1062.4 L1935.3,1062.5 L1937.4,1062.6 L1939.4,1062.8 L1941.5,1062.9 L1943.5,1063.0 L1945.6,1063.2 L1947.6,1063.3 L1949.7,1063.5 L1951.7,1063.6 L1953.8,1063.7 L1955.8,1063.9 L1957.9,1064.0 L1959.9,1064.2 L1962.0,1064.3 L1964.0,1064.5 L1966.1,1064.6 L1968.1,1064.8 L1970.1,1064.9 L1972.2,1065.1 L1974.2,1065.2 L1976.3,1065.4 L1978.3,1065.6 L1980.4,1065.7 L1982.4,1065.9 L1984.4,1066.1 L1986.5,1066.3 L1988.5,1066.4 L1990.6,1066.6 L1992.6,1066.8 L1994.6,1067.0 L1996.7,1067.2 L1998.7,1067.4 L2000.7,1067.6 L2002.8,1067.8 L2004.8,1068.0 L2006.8,1068.2 L2008.9,1068.4 L2010.9,1068.6" stroke-width="10" stroke="#0a0a0a"/>
<path d="M921.3,164.2 L922.5,165.7 L923.7,167.3 L924.9,169.0 L926.0,170.7 L927.1,172.4 L928.1,174.2 L929.1,176.0 L930.0,177.9 L930.9,179.8 L931.8,181.7 L932.7,183.7 L933.5,185.7 L934.3,187.7 L935.1,189.7 L935.9,191.7 L936.6,193.8 L937.4,195.8 L938.1,197.9 L938.8,199.9 L939.5,202.0 L940.2,204.0 L940.9,206.0 L941.6,208.0 L942.3,210.0 L943.0,212.0 L943.6,214.0 L944.3,216.0 L945.0,218.0 L945.7,219.9 L946.3,221.9 L947.0,223.9 L947.7,225.8 L948.3,227.7 L949.0,229.7 L949.7,231.6 L950.4,233.5 L951.0,235.5 L951.7,237.4 L952.4,239.3 L953.1,241.2 L953.7,243.1 L954.4,245.1 L955.1,247.0 L955.8,248.9 L956.5,250.8 L957.2,252.8 L957.9,254.7 L958.6,256.6 L959.3,258.5 L960.0,260.5 L960.7,262.4 L961.4,264.3 L962.2,266.2 L962.9,268.2 L963.6,270.1 L964.3,272.0 L965.0,274.0 L965.8,275.9 L966.5,277.8 L967.2,279.8 L967.9,281.7 L968.7,283.6 L969.4,285.6 L970.1,287.5 L970.8,289.4 L971.6,291.4 L972.3,293.3 L973.0,295.3 L973.8,297.2 L974.5,299.1 L975.2,301.1 L975.9,303.0 L976.7,305.0 L977.4,306.9 L978.1,308.9 L978.8,310.8 L979.5,312.8 L980.3,314.7 L981.0,316.7 L981.7,318.6 L982.4,320.6 L983.1,322.5 L983.8,324.5 L984.5,326.4 L985.2,328.4 L985.9,330.3 L986.6,332.3 L987.3,334.2 L988.0,336.2 L988.7,338.2 L989.3,340.1 L990.0,342.1 L990.7,344.0 L991.4,346.0 L992.0,348.0 L992.7,349.9 L993.3,351.9 L994.0,353.9 L994.6,355.8 L995.3,357.8 L995.9,359.8 L996.6,361.7 L997.2,363.7 L997.8,365.7 L998.4,367.7 L999.1,369.6 L999.7,371.6 L1000.3,373.6 L1000.9,375.5 L1001.5,377.5 L1002.1,379.5 L1002.7,381.5 L1003.3,383.4 L1003.9,385.4 L1004.5,387.4 L1005.1,389.4 L1005.7,391.4 L1006.3,393.3 L1006.9,395.3 L1007.5,397.3 L1008.1,399.3 L1008.6,401.3 L1009.2,403.2" stroke-width="11.5"/>
<path d="M227.8,466.1 L234.2,467.8 L240.6,469.6 L247.0,471.4 L253.3,473.3 L259.6,475.2 L265.8,477.2 L272.1,479.3 L278.3,481.3 L284.5,483.5 L290.7,485.6 L296.8,487.8 L303.0,490.0 L309.1,492.3 L315.2,494.6 L321.3,496.8 L327.4,499.2 L333.4,501.5 L339.5,503.8 L345.5,506.1 L351.6,508.4 L357.6,510.8 L363.7,513.1 L369.7,515.4 L375.8,517.7 L381.8,520.0 L387.9,522.2 L394.0,524.4 L400.0,526.6 L406.1,528.8 L412.2,530.9 L418.3,533.0 L424.4,535.1 L430.6,537.1 L436.7,539.0 L442.9,540.9 L449.1,542.8 L455.3,544.6 L461.5,546.3 L467.8,547.9 L474.1,549.5 L480.4,551.0 L486.7,552.4 L493.1,553.7 L499.5,555.0 L506.0,556.1 L512.4,557.2 L519.0,558.2 L525.5,559.0 L532.1,559.8 L538.7,560.4 L545.4,561.0 L552.0,561.4 L558.7,561.7 L565.3,561.9 L572.0,561.9 L578.7,561.8 L585.3,561.6 L591.9,561.2 L598.5,560.8 L605.1,560.1 L611.6,559.3 L618.1,558.4 L624.5,557.3 L630.9,556.0 L637.2,554.6 L643.5,553.0 L649.7,551.3 L655.8,549.3 L661.8,547.2 L667.7,544.9 L673.6,542.4 L679.3,539.8 L685.0,536.9 L690.5,533.9 L695.9,530.6 L701.1,527.1 L706.3,523.5 L711.3,519.6 L716.2,515.5 L720.9,511.2 L725.5,506.7 L730.0,502.1 L734.3,497.3 L738.5,492.3 L742.6,487.1 L746.6,481.9 L750.5,476.5 L754.2,471.0 L757.9,465.4 L761.4,459.7 L764.8,453.9 L768.2,448.1 L771.4,442.2 L774.6,436.3 L777.7,430.3 L780.6,424.3 L783.6,418.3 L786.4,412.3 L789.1,406.3 L791.8,400.3 L794.4,394.3 L797.0,388.3 L799.5,382.3 L801.9,376.3 L804.3,370.3 L806.6,364.3 L808.9,358.3 L811.2,352.3 L813.4,346.3 L815.5,340.3 L817.7,334.3 L819.8,328.3 L821.8,322.2 L823.9,316.2 L825.9,310.2 L827.9,304.1 L829.9,298.1 L831.9,292.0 L834.0,285.9 L836.0,279.8 L838.0,273.7 L840.1,267.6 L842.2,261.5 L844.3,255.3 L846.5,249.1 L848.7,242.9 L851.0,236.7 L853.4,230.4 L855.8,224.1 L858.4,217.8 L861.0,211.4 L863.7,205.0 L866.5,198.6 L869.4,192.2 L872.5,186.0 L875.7,180.0 L879.1,174.4 L882.7,169.1 L886.4,164.3 L890.5,160.1 L894.7,156.6 L899.1,154.3 L903.5,153.6 L907.9,154.5 L912.1,157.1 L916.1,161.0 L920.0,166.2 L923.6,172.2 L927.1,178.9 L930.3,186.0 L933.5,193.1 L936.5,200.0 L939.3,206.7 L942.0,213.1 L944.6,219.3 L947.1,225.4 L949.5,231.4 L951.8,237.4 L954.0,243.2 L956.2,249.1 L958.3,255.0 L960.4,261.0 L962.4,266.9 L964.3,273.0 L966.2,279.0 L968.1,285.1 L969.9,291.2 L971.7,297.4 L973.5,303.6 L975.2,309.8 L976.9,316.0 L978.6,322.3 L980.3,328.6 L981.9,334.9 L983.5,341.2 L985.1,347.5 L986.6,353.9 L988.2,360.2 L989.8,366.6 L991.3,373.0 L992.8,379.4 L994.3,385.8 L995.8,392.2 L997.3,398.6 L998.8,405.0 L1000.3,411.4 L1001.8,417.8 L1003.3,424.3 L1004.7,430.7 L1006.2,437.1 L1007.7,443.5 L1009.1,449.9 L1010.6,456.3 L1012.1,462.7 L1013.6,469.0 L1015.1,475.4 L1016.5,481.7 L1018.0,488.1 L1019.5,494.4 L1021.0,500.7 L1022.6,507.0 L1024.1,513.3 L1025.6,519.6 L1027.2,525.9 L1028.7,532.1 L1030.3,538.4 L1031.9,544.6 L1033.5,550.9 L1035.1,557.1 L1036.8,563.3 L1038.4,569.6 L1040.1,575.8 L1041.8,582.0 L1043.5,588.2 L1045.3,594.4 L1047.0,600.6 L1048.8,606.8 L1050.6,613.0 L1052.4,619.2 L1054.3,625.4 L1056.2,631.5 L1058.1,637.7 L1060.1,643.9 L1062.0,650.1 L1064.0,656.3 L1066.1,662.5 L1068.1,668.7 L1070.2,674.9 L1072.4,681.1 L1074.5,687.3 L1076.7,693.5 L1079.0,699.7 L1081.3,705.9 L1083.6,712.1 L1086.0,718.2 L1088.4,724.4 L1090.8,730.6 L1093.3,736.7 L1095.9,742.8 L1098.5,748.9 L1101.1,755.0 L1103.8,761.1 L1106.6,767.1 L1109.4,773.1 L1112.2,779.0 L1115.1,785.0 L1118.1,790.9 L1121.1,796.7 L1124.2,802.5 L1127.4,808.3 L1130.6,814.0 L1133.8,819.7 L1137.2,825.3 L1140.6,830.9 L1144.0,836.4 L1147.6,841.8 L1151.2,847.2 L1154.9,852.5 L1158.6,857.8 L1162.5,863.0 L1166.4,868.1 L1170.4,873.1 L1174.4,878.1 L1178.6,883.0 L1182.8,887.8 L1187.1,892.5 L1191.5,897.2 L1195.9,901.7 L1200.5,906.2 L1205.1,910.6 L1209.8,915.0 L1214.5,919.2 L1219.4,923.4 L1224.3,927.4 L1229.3,931.4 L1234.3,935.4 L1239.4,939.2 L1244.6,943.0 L1249.8,946.7 L1255.1,950.3 L1260.5,953.8 L1265.9,957.3 L1271.4,960.7 L1276.9,964.0 L1282.5,967.3 L1288.2,970.5 L1293.9,973.6 L1299.6,976.6 L1305.4,979.6 L1311.2,982.5 L1317.1,985.3 L1323.0,988.1 L1329.0,990.8 L1335.0,993.4 L1341.0,996.0 L1347.1,998.5 L1353.2,1000.9 L1359.4,1003.3 L1365.5,1005.6 L1371.8,1007.8 L1378.0,1010.0 L1384.3,1012.1 L1390.6,1014.1 L1396.9,1016.1 L1403.2,1018.1 L1409.6,1019.9 L1416.0,1021.8 L1422.4,1023.5 L1428.8,1025.2 L1435.2,1026.8 L1441.7,1028.4 L1448.1,1030.0 L1454.6,1031.4 L1461.1,1032.8 L1467.6,1034.2 L1474.1,1035.5 L1480.6,1036.8 L1487.1,1038.0 L1493.6,1039.1 L1500.1,1040.2 L1506.6,1041.3 L1513.1,1042.3 L1519.6,1043.2 L1526.0,1044.1 L1532.5,1045.0 L1539.0,1045.8 L1545.5,1046.6 L1552.0,1047.3 L1558.4,1048.0 L1564.9,1048.6 L1571.4,1049.3 L1577.8,1049.8 L1584.3,1050.4 L1590.7,1050.9 L1597.2,1051.4 L1603.6,1051.9 L1610.1,1052.3 L1616.5,1052.7 L1623.0,1053.1 L1629.4,1053.5 L1635.8,1053.8 L1642.3,1054.1 L1648.7,1054.5 L1655.1,1054.8 L1661.6,1055.0 L1668.0,1055.3 L1674.4,1055.5 L1680.8,1055.7 L1687.3,1055.8 L1693.7,1055.9 L1700.1,1055.9 L1706.6,1055.9 L1713.0,1055.7 L1719.4,1055.5 L1725.8,1055.2 L1732.3,1054.9 L1738.7,1054.6 L1745.1,1054.2 L1751.6,1053.9 L1758.0,1053.7 L1764.4,1053.5 L1770.9,1053.3 L1777.3,1053.3 L1783.8,1053.4 L1790.2,1053.5 L1796.7,1053.7 L1803.1,1054.0 L1809.6,1054.4 L1816.0,1054.8 L1822.5,1055.3 L1828.9,1055.8 L1835.4,1056.3 L1841.9,1056.9 L1848.3,1057.6 L1854.8,1058.2 L1861.3,1058.9 L1867.8,1059.6 L1874.3,1060.4 L1880.8,1061.1 L1887.3,1061.8 L1893.8,1062.6 L1900.3,1063.3 L1906.8,1064.1 L1913.3,1064.8 L1919.8,1065.5 L1926.3,1066.2 L1932.9,1066.8 L1939.4,1067.4 L1946.0,1068.0 L1952.5,1068.5 L1959.1,1069.0 L1965.7,1069.4 L1972.2,1069.8 L1978.8,1070.1 L1985.4,1070.3 L1992.0,1070.5 L1998.6,1070.6 L2005.2,1070.6 L2011.8,1070.5" stroke-width="8.5" stroke-dasharray="13.5 14.5"/>
<path d="M232.1,517.0 L238.5,518.4 L244.8,519.9 L251.2,521.5 L257.6,523.1 L263.9,524.7 L270.3,526.3 L276.6,528.0 L282.9,529.7 L289.3,531.4 L295.6,533.2 L301.9,534.9 L308.2,536.7 L314.5,538.5 L320.9,540.3 L327.2,542.1 L333.5,544.0 L339.8,545.8 L346.1,547.7 L352.4,549.6 L358.7,551.4 L365.0,553.3 L371.4,555.2 L377.7,557.1 L384.0,558.9 L390.3,560.8 L396.6,562.7 L402.9,564.6 L409.3,566.4 L415.6,568.3 L421.9,570.1 L428.3,571.9 L434.6,573.7 L440.9,575.5 L447.3,577.3 L453.7,579.1 L460.0,580.8 L466.4,582.5 L472.8,584.2 L479.1,585.9 L485.5,587.5 L491.9,589.1 L498.3,590.7 L504.7,592.2 L511.2,593.7 L517.6,595.2 L524.0,596.6 L530.5,598.0 L537.0,599.4 L543.4,600.7 L549.9,601.9 L556.4,603.1 L562.9,604.3 L569.4,605.4 L576.0,606.5 L582.5,607.5 L589.1,608.4 L595.6,609.3 L602.2,610.2 L608.8,611.0 L615.4,611.6 L622.0,612.2 L628.6,612.7 L635.2,613.1 L641.7,613.3 L648.2,613.4 L654.7,613.3 L661.2,613.0 L667.6,612.6 L674.0,611.9 L680.3,611.1 L686.5,610.0 L692.7,608.7 L698.8,607.1 L704.8,605.2 L710.8,603.1 L716.6,600.6 L722.4,597.9 L728.0,594.8 L733.6,591.4 L739.0,587.7 L744.3,583.8 L749.5,579.5 L754.5,575.0 L759.5,570.3 L764.2,565.4 L768.8,560.3 L773.3,555.1 L777.6,549.8 L781.7,544.3 L785.7,538.8 L789.5,533.2 L793.1,527.6 L796.5,521.9 L799.8,516.2 L802.9,510.5 L805.8,504.8 L808.7,499.0 L811.4,493.2 L814.0,487.3 L816.5,481.4 L818.9,475.5 L821.3,469.6 L823.6,463.6 L825.8,457.6 L828.0,451.6 L830.2,445.5 L832.3,439.4 L834.5,433.3 L836.6,427.1 L838.8,420.9 L841.0,414.7 L843.2,408.4 L845.4,402.2 L847.6,395.9 L849.8,389.6 L852.1,383.3 L854.3,377.0 L856.5,370.7 L858.8,364.4 L861.0,358.1 L863.2,351.9 L865.3,345.6 L867.5,339.4 L869.6,333.2 L871.7,327.1 L873.7,320.9 L875.7,314.9 L877.7,308.8 L879.6,302.8 L881.5,296.9 L883.4,290.9 L885.3,284.9 L887.2,278.8 L889.2,272.7 L891.2,266.5 L893.2,260.2 L895.3,253.7 L897.5,247.1 L899.8,240.4 L902.2,233.6 L904.8,226.8 L907.5,219.9 L910.3,213.1 L913.4,206.4 L916.6,199.7 L920.0,193.3 L923.6,187.1 L927.3,181.2 L931.2,175.8 L935.2,170.8 L939.2,166.5 L943.4,162.8 L947.5,159.9 L951.7,157.9 L955.9,156.7 L960.1,156.6 L964.2,157.6 L968.3,159.7 L972.2,162.6 L976.0,166.4 L979.6,170.9 L983.0,175.8 L986.1,181.2 L989.0,186.9 L991.6,192.8 L994.1,199.0 L996.4,205.4 L998.5,211.9 L1000.6,218.5 L1002.6,225.1 L1004.6,231.7 L1006.5,238.4 L1008.4,245.0 L1010.4,251.6 L1012.3,258.1 L1014.1,264.7 L1016.0,271.2 L1017.9,277.7 L1019.7,284.2 L1021.5,290.6 L1023.4,297.1 L1025.2,303.5 L1026.9,309.9 L1028.7,316.3 L1030.5,322.7 L1032.2,329.1 L1034.0,335.5 L1035.7,341.8 L1037.4,348.2 L1039.1,354.5 L1040.8,360.8 L1042.5,367.1 L1044.2,373.4 L1045.9,379.7 L1047.5,386.0 L1049.2,392.3 L1050.8,398.6 L1052.5,404.9 L1054.1,411.2 L1055.7,417.5 L1057.4,423.8 L1059.0,430.1 L1060.6,436.3 L1062.2,442.6 L1063.8,448.9 L1065.4,455.2 L1067.0,461.5 L1068.6,467.8 L1070.2,474.1 L1071.7,480.4 L1073.3,486.7 L1074.9,493.0 L1076.5,499.4 L1078.0,505.7 L1079.6,512.1 L1081.2,518.4 L1082.8,524.8 L1084.3,531.2 L1085.9,537.6 L1087.5,544.0 L1089.1,550.4 L1090.7,556.8 L1092.3,563.2 L1094.0,569.6 L1095.6,576.0 L1097.3,582.4 L1098.9,588.8 L1100.6,595.2 L1102.4,601.6 L1104.1,607.9 L1105.9,614.3 L1107.7,620.7 L1109.5,627.1 L1111.4,633.4 L1113.3,639.8 L1115.2,646.1 L1117.1,652.4 L1119.1,658.7 L1121.2,665.0 L1123.3,671.3 L1125.4,677.5 L1127.5,683.7 L1129.7,689.9 L1132.0,696.1 L1134.3,702.3 L1136.7,708.4 L1139.1,714.5 L1141.5,720.6 L1144.1,726.7 L1146.7,732.7 L1149.3,738.7 L1152.0,744.7 L1154.8,750.6 L1157.6,756.5 L1160.5,762.4 L1163.4,768.2 L1166.5,774.0 L1169.6,779.7 L1172.8,785.4 L1176.0,791.1 L1179.4,796.7 L1182.8,802.3 L1186.3,807.9 L1189.8,813.4 L1193.5,818.8 L1197.2,824.2 L1201.1,829.6 L1205.0,834.9 L1209.0,840.1 L1213.1,845.3 L1217.3,850.5 L1221.5,855.6 L1225.8,860.6 L1230.3,865.5 L1234.7,870.4 L1239.3,875.3 L1243.9,880.0 L1248.6,884.7 L1253.4,889.3 L1258.3,893.8 L1263.2,898.3 L1268.2,902.7 L1273.2,907.0 L1278.3,911.2 L1283.5,915.4 L1288.7,919.4 L1294.0,923.4 L1299.3,927.2 L1304.7,931.0 L1310.2,934.7 L1315.7,938.3 L1321.2,941.7 L1326.8,945.1 L1332.5,948.4 L1338.2,951.6 L1343.9,954.7 L1349.7,957.7 L1355.5,960.6 L1361.4,963.4 L1367.3,966.2 L1373.2,968.8 L1379.2,971.4 L1385.2,973.9 L1391.3,976.3 L1397.3,978.6 L1403.4,980.8 L1409.6,983.0 L1415.7,985.1 L1421.9,987.1 L1428.1,989.0 L1434.3,990.9 L1440.6,992.7 L1446.8,994.4 L1453.1,996.1 L1459.4,997.7 L1465.7,999.3 L1472.1,1000.8 L1478.4,1002.2 L1484.8,1003.6 L1491.1,1004.9 L1497.5,1006.2 L1503.9,1007.4 L1510.3,1008.6 L1516.7,1009.7 L1523.2,1010.8 L1529.6,1011.8 L1536.1,1012.9 L1542.5,1013.8 L1549.0,1014.8 L1555.5,1015.7 L1562.0,1016.5 L1568.5,1017.4 L1575.0,1018.2 L1581.6,1019.0 L1588.1,1019.7 L1594.6,1020.5 L1601.2,1021.2 L1607.7,1021.9 L1614.3,1022.6 L1620.9,1023.3 L1627.5,1023.9 L1634.0,1024.6 L1640.6,1025.2 L1647.2,1025.8 L1653.8,1026.4 L1660.4,1026.9 L1667.0,1027.4 L1673.6,1027.8 L1680.2,1028.1 L1686.8,1028.4 L1693.5,1028.6 L1700.1,1028.7 L1706.7,1028.7 L1713.3,1028.7 L1719.9,1028.5 L1726.6,1028.4 L1733.2,1028.2 L1739.8,1028.0 L1746.4,1027.8 L1753.1,1027.6 L1759.7,1027.5 L1766.3,1027.5 L1772.9,1027.5 L1779.5,1027.6 L1786.1,1027.8 L1792.7,1028.0 L1799.3,1028.2 L1805.9,1028.6 L1812.5,1028.9 L1819.1,1029.3 L1825.7,1029.8 L1832.3,1030.3 L1838.9,1030.8 L1845.4,1031.4 L1852.0,1032.0 L1858.5,1032.6 L1865.1,1033.2 L1871.6,1033.9 L1878.1,1034.5 L1884.7,1035.2 L1891.2,1036.0 L1897.7,1036.7 L1904.2,1037.4 L1910.7,1038.1 L1917.1,1038.8 L1923.6,1039.6 L1930.0,1040.3 L1936.5,1041.0 L1942.9,1041.7 L1949.3,1042.4 L1955.7,1043.0 L1962.1,1043.7 L1968.5,1044.3 L1974.9,1044.9 L1981.2,1045.5 L1987.5,1046.0 L1993.9,1046.5 L2000.2,1047.0 L2006.5,1047.4" stroke-width="5.6" stroke="#222" stroke-dasharray="6 11.5"/>
<path d="M227.6,653.5 L232.7,653.7 L237.8,654.0 L242.9,654.2 L248.0,654.5 L253.1,654.7 L258.1,654.8 L263.1,655.0 L268.2,655.2 L273.2,655.3 L278.2,655.5 L283.1,655.6 L288.1,655.7 L293.1,655.8 L298.0,655.9 L303.0,656.0 L307.9,656.1 L312.9,656.1 L317.8,656.2 L322.7,656.3 L327.6,656.3 L332.5,656.4 L337.5,656.4 L342.4,656.5 L347.3,656.5 L352.1,656.6 L357.0,656.6 L361.9,656.7 L366.8,656.8 L371.7,656.8 L376.6,656.9 L381.5,657.0 L386.4,657.1 L391.3,657.2 L396.2,657.3 L401.1,657.4 L406.0,657.5 L410.9,657.7 L415.8,657.8 L420.8,658.0 L425.7,658.2 L430.6,658.3 L435.6,658.6 L440.5,658.8 L445.5,659.0 L450.5,659.3 L455.4,659.6 L460.4,659.9 L465.4,660.2 L470.4,660.5 L475.4,660.8 L480.4,661.2 L485.4,661.5 L490.4,661.9 L495.5,662.3 L500.5,662.7 L505.5,663.1 L510.6,663.5 L515.6,663.9 L520.6,664.4 L525.7,664.8 L530.7,665.3 L535.8,665.7 L540.8,666.2 L545.9,666.7 L550.9,667.1 L555.9,667.6 L561.0,668.1 L566.0,668.6 L571.1,669.1 L576.1,669.6 L581.2,670.1 L586.2,670.6 L591.2,671.1 L596.3,671.6 L601.3,672.1 L606.3,672.6 L611.3,673.1 L616.4,673.6 L621.4,674.0 L626.4,674.5 L631.4,675.0 L636.4,675.5 L641.3,676.0 L646.3,676.4 L651.3,676.9 L656.2,677.4 L661.2,677.8 L666.1,678.2 L671.1,678.7 L676.0,679.1 L680.9,679.5 L685.8,679.9 L690.7,680.3 L695.6,680.7 L700.5,681.1 L705.3,681.4 L710.2,681.7 L715.0,682.0 L719.8,682.3 L724.7,682.4 L729.5,682.5 L734.2,682.5 L739.0,682.3 L743.8,682.0 L748.5,681.6 L753.2,680.9 L757.9,680.1 L762.6,679.1 L767.3,677.9 L771.9,676.5 L776.5,674.9 L781.1,673.1 L785.6,671.1 L790.0,669.0" stroke-width="5" stroke="#111" stroke-dasharray="13 31"/>
<path d="M790.0,669.0 L794.4,666.6 L798.7,664.2 L802.9,661.5 L807.1,658.8 L811.1,655.8 L815.0,652.8 L818.8,649.6 L822.5,646.3 L826.1,642.9 L829.5,639.4 L832.9,635.7 L836.1,632.0 L839.2,628.2 L842.3,624.3 L845.3,620.4 L848.2,616.4 L851.1,612.3 L853.9,608.1 L856.7,604.0 L859.4,599.7 L862.1,595.5 L864.7,591.2 L867.3,586.9 L870.0,582.6 L872.6,578.3 L875.2,574.0 L877.8,569.6 L880.5,565.3 L883.1,561.0 L885.7,556.7 L888.3,552.3 L890.9,548.0 L893.5,543.7 L896.1,539.4 L898.7,535.0 L901.3,530.7 L903.8,526.4 L906.4,522.0 L908.9,517.7 L911.4,513.3 L913.9,509.0 L916.4,504.6 L918.9,500.3 L921.3,495.9 L923.8,491.6 L926.2,487.2 L928.5,482.8 L930.9,478.5 L933.2,474.1 L935.5,469.7 L937.8,465.3 L940.0,461.0 L942.2,456.6 L944.4,452.2 L946.5,447.8 L948.7,443.4 L950.7,439.0 L952.8,434.5 L954.8,430.1 L956.8,425.7 L958.8,421.3 L960.8,416.8 L962.7,412.4 L964.6,408.0 L966.5,403.5 L968.4,399.1 L970.3,394.6 L972.2,390.1 L974.0,385.7 L975.9,381.2 L977.7,376.7 L979.6,372.2 L981.4,367.7 L983.3,363.2 L985.1,358.7 L987.0,354.2 L988.8,349.7 L990.7,345.2 L992.5,340.6 L994.4,336.1 L996.3,331.6 L998.1,327.0 L1000.1,322.5 L1002.0,317.9 L1003.9,313.3 L1005.9,308.8 L1007.8,304.2 L1009.8,299.6 L1011.9,295.0 L1013.9,290.4 L1016.0,285.8 L1018.1,281.2 L1020.2,276.6 L1022.4,271.9 L1024.6,267.3 L1026.8,262.7 L1029.1,258.0 L1031.4,253.4 L1033.8,248.7 L1036.1,244.0 L1038.6,239.4 L1041.1,234.7 L1043.6,230.1 L1046.2,225.5 L1048.8,220.9 L1051.5,216.4 L1054.2,211.8 L1057.0,207.4 L1059.8,203.0 L1062.8,198.6 L1065.7,194.3 L1068.8,190.1 L1071.8,186.0 L1075.0,181.9 L1078.2,178.0 L1081.5,174.2 L1084.9,170.6 L1088.3,167.3 L1091.9,164.2 L1095.5,161.5 L1099.1,159.1 L1102.9,157.1 L1106.7,155.5 L1110.6,154.4 L1114.6,153.8 L1118.7,153.6 L1122.8,153.8 L1126.9,154.5 L1131.0,155.5 L1135.1,156.8 L1139.3,158.5 L1143.3,160.6 L1147.4,162.9 L1151.4,165.4 L1155.3,168.2 L1159.1,171.3 L1162.9,174.5 L1166.6,177.9 L1170.2,181.5 L1173.8,185.2 L1177.3,189.0 L1180.6,192.9 L1183.9,196.9 L1187.2,201.0 L1190.3,205.0 L1193.3,209.1 L1196.3,213.2 L1199.2,217.4 L1202.0,221.5 L1204.7,225.7 L1207.4,229.9 L1210.0,234.2 L1212.5,238.4 L1215.0,242.7 L1217.5,247.0 L1219.8,251.4 L1222.2,255.7 L1224.5,260.0 L1226.8,264.4 L1229.0,268.8 L1231.2,273.2 L1233.4,277.6 L1235.5,282.0 L1237.7,286.5 L1239.8,290.9 L1241.9,295.4 L1244.0,299.8 L1246.1,304.3 L1248.2,308.8 L1250.3,313.3 L1252.4,317.8 L1254.5,322.2 L1256.5,326.7 L1258.6,331.3 L1260.7,335.8 L1262.8,340.3 L1264.8,344.8 L1266.9,349.3 L1269.0,353.8 L1271.0,358.4 L1273.1,362.9 L1275.1,367.4 L1277.2,372.0 L1279.2,376.5 L1281.3,381.1 L1283.4,385.6 L1285.4,390.2 L1287.5,394.7 L1289.6,399.3 L1291.6,403.8 L1293.7,408.4 L1295.8,412.9 L1297.8,417.5 L1299.9,422.0 L1302.0,426.5 L1304.1,431.1 L1306.2,435.6 L1308.3,440.2 L1310.4,444.7 L1312.5,449.2 L1314.6,453.8 L1316.7,458.3 L1318.9,462.8 L1321.0,467.4 L1323.2,471.9 L1325.3,476.4 L1327.5,480.9 L1329.7,485.4 L1331.8,489.9 L1334.0,494.4 L1336.2,498.9 L1338.4,503.3 L1340.7,507.8 L1342.9,512.3 L1345.1,516.7 L1347.4,521.2 L1349.6,525.6 L1351.9,530.0 L1354.2,534.5 L1356.5,538.9 L1358.8,543.3 L1361.2,547.7 L1363.5,552.1 L1365.9,556.4 L1368.3,560.8 L1370.7,565.2 L1373.1,569.5 L1375.5,573.8 L1377.9,578.2 L1380.4,582.5 L1382.9,586.8 L1385.3,591.0 L1387.9,595.3 L1390.4,599.6 L1392.9,603.8 L1395.5,608.0 L1398.1,612.2 L1400.7,616.4 L1403.3,620.6 L1405.9,624.8 L1408.6,628.9 L1411.3,633.1 L1414.0,637.2 L1416.7,641.3 L1419.5,645.4 L1422.3,649.5 L1425.0,653.5 L1427.9,657.6 L1430.7,661.6 L1433.6,665.6 L1436.5,669.5 L1439.4,673.5 L1442.3,677.5 L1445.3,681.4 L1448.3,685.3 L1451.3,689.2 L1454.4,693.0 L1457.4,696.9 L1460.5,700.7 L1463.6,704.5 L1466.8,708.3 L1470.0,712.0 L1473.2,715.7 L1476.4,719.4 L1479.7,723.1 L1483.0,726.8 L1486.3,730.4 L1489.7,734.0 L1493.1,737.6 L1496.5,741.2 L1500.0,744.7 L1503.5,748.3 L1507.0,751.8 L1510.5,755.2 L1514.1,758.7 L1517.7,762.1 L1521.3,765.4 L1525.0,768.8 L1528.7,772.1 L1532.4,775.4 L1536.2,778.7 L1540.0,781.9 L1543.8,785.1 L1547.6,788.3 L1551.5,791.5 L1555.4,794.6 L1559.3,797.7 L1563.2,800.7 L1567.2,803.8 L1571.2,806.7 L1575.2,809.7 L1579.3,812.6 L1583.3,815.5 L1587.4,818.4 L1591.5,821.2 L1595.7,824.0 L1599.8,826.7 L1604.0,829.4 L1608.2,832.1 L1612.5,834.7 L1616.7,837.3 L1621.0,839.9 L1625.3,842.4 L1629.6,844.9 L1633.9,847.3 L1638.2,849.7 L1642.6,852.1 L1647.0,854.4 L1651.4,856.7" stroke-width="6.5" stroke="#050505" stroke-dasharray="13 31" stroke-dashoffset="37.7"/>
<path d="M1651.4,856.7 L1655.8,859.0 L1660.2,861.2 L1664.7,863.3 L1669.2,865.4 L1673.7,867.5 L1678.2,869.5 L1682.7,871.5 L1687.2,873.5 L1691.8,875.4 L1696.3,877.3 L1700.9,879.1 L1705.5,880.9 L1710.1,882.7 L1714.7,884.4 L1719.3,886.2 L1724.0,887.8 L1728.6,889.5 L1733.3,891.1 L1738.0,892.7 L1742.7,894.3 L1747.4,895.8 L1752.1,897.3 L1756.8,898.8 L1761.5,900.3 L1766.2,901.7 L1771.0,903.2 L1775.7,904.6 L1780.5,905.9 L1785.3,907.3 L1790.0,908.7 L1794.8,910.0 L1799.6,911.3 L1804.4,912.6 L1809.2,913.9 L1814.0,915.2 L1818.8,916.4 L1823.6,917.7 L1828.4,918.9 L1833.2,920.2 L1838.1,921.4 L1842.9,922.6 L1847.7,923.9 L1852.6,925.1 L1857.4,926.3 L1862.2,927.5 L1867.1,928.7 L1871.9,929.9 L1876.7,931.1 L1881.6,932.3 L1886.4,933.5 L1891.2,934.7 L1896.1,935.9 L1900.9,937.1 L1905.7,938.4 L1910.6,939.6 L1915.4,940.8 L1920.2,942.1 L1925.0,943.3 L1929.8,944.6 L1934.6,945.9 L1939.5,947.2 L1944.3,948.5 L1949.1,949.8 L1953.8,951.2 L1958.6,952.5 L1963.4,953.9 L1968.2,955.3 L1972.9,956.7 L1977.7,958.1 L1982.5,959.6 L1987.2,961.0 L1991.9,962.5 L1996.7,964.1 L2001.4,965.6 L2006.1,967.2 L2010.8,968.8" stroke-width="5.6" stroke="#0a0a0a" stroke-dasharray="13 31" stroke-dashoffset="27.6"/>
<path d="M227.6,653.5 L232.7,653.7 L237.8,654.0 L242.9,654.2 L248.0,654.5 L253.1,654.7 L258.1,654.8 L263.1,655.0 L268.2,655.2 L273.2,655.3 L278.2,655.5 L283.1,655.6 L288.1,655.7 L293.1,655.8 L298.0,655.9 L303.0,656.0 L307.9,656.1 L312.9,656.1 L317.8,656.2 L322.7,656.3 L327.6,656.3 L332.5,656.4 L337.5,656.4 L342.4,656.5 L347.3,656.5 L352.1,656.6 L357.0,656.6 L361.9,656.7 L366.8,656.8 L371.7,656.8 L376.6,656.9 L381.5,657.0 L386.4,657.1 L391.3,657.2 L396.2,657.3 L401.1,657.4 L406.0,657.5 L410.9,657.7 L415.8,657.8 L420.8,658.0 L425.7,658.2 L430.6,658.3 L435.6,658.6 L440.5,658.8 L445.5,659.0 L450.5,659.3 L455.4,659.6 L460.4,659.9 L465.4,660.2 L470.4,660.5 L475.4,660.8 L480.4,661.2 L485.4,661.5 L490.4,661.9 L495.5,662.3 L500.5,662.7 L505.5,663.1 L510.6,663.5 L515.6,663.9 L520.6,664.4 L525.7,664.8 L530.7,665.3 L535.8,665.7 L540.8,666.2 L545.9,666.7 L550.9,667.1 L555.9,667.6 L561.0,668.1 L566.0,668.6 L571.1,669.1 L576.1,669.6 L581.2,670.1 L586.2,670.6 L591.2,671.1 L596.3,671.6 L601.3,672.1 L606.3,672.6 L611.3,673.1 L616.4,673.6 L621.4,674.0 L626.4,674.5 L631.4,675.0 L636.4,675.5 L641.3,676.0 L646.3,676.4 L651.3,676.9 L656.2,677.4 L661.2,677.8 L666.1,678.2 L671.1,678.7 L676.0,679.1 L680.9,679.5 L685.8,679.9 L690.7,680.3 L695.6,680.7 L700.5,681.1 L705.3,681.4 L710.2,681.7 L715.0,682.0 L719.8,682.3 L724.7,682.4 L729.5,682.5 L734.2,682.5 L739.0,682.3 L743.8,682.0 L748.5,681.6 L753.2,680.9 L757.9,680.1 L762.6,679.1 L767.3,677.9 L771.9,676.5 L776.5,674.9 L781.1,673.1 L785.6,671.1 L790.0,669.0 L794.4,666.6 L798.7,664.2 L802.9,661.5 L807.1,658.8 L811.1,655.8 L815.0,652.8 L818.8,649.6 L822.5,646.3 L826.1,642.9 L829.5,639.4 L832.9,635.7 L836.1,632.0 L839.2,628.2 L842.3,624.3 L845.3,620.4 L848.2,616.4 L851.1,612.3 L853.9,608.1 L856.7,604.0 L859.4,599.7 L862.1,595.5 L864.7,591.2 L867.3,586.9 L870.0,582.6 L872.6,578.3 L875.2,574.0 L877.8,569.6 L880.5,565.3 L883.1,561.0 L885.7,556.7 L888.3,552.3 L890.9,548.0 L893.5,543.7 L896.1,539.4 L898.7,535.0 L901.3,530.7 L903.8,526.4 L906.4,522.0 L908.9,517.7 L911.4,513.3 L913.9,509.0 L916.4,504.6 L918.9,500.3 L921.3,495.9 L923.8,491.6 L926.2,487.2 L928.5,482.8 L930.9,478.5 L933.2,474.1 L935.5,469.7 L937.8,465.3 L940.0,461.0 L942.2,456.6 L944.4,452.2 L946.5,447.8 L948.7,443.4 L950.7,439.0 L952.8,434.5 L954.8,430.1 L956.8,425.7 L958.8,421.3 L960.8,416.8 L962.7,412.4 L964.6,408.0 L966.5,403.5 L968.4,399.1 L970.3,394.6 L972.2,390.1 L974.0,385.7 L975.9,381.2 L977.7,376.7 L979.6,372.2 L981.4,367.7 L983.3,363.2 L985.1,358.7 L987.0,354.2 L988.8,349.7 L990.7,345.2 L992.5,340.6 L994.4,336.1 L996.3,331.6 L998.1,327.0 L1000.1,322.5 L1002.0,317.9 L1003.9,313.3 L1005.9,308.8 L1007.8,304.2 L1009.8,299.6 L1011.9,295.0 L1013.9,290.4 L1016.0,285.8 L1018.1,281.2 L1020.2,276.6 L1022.4,271.9 L1024.6,267.3 L1026.8,262.7 L1029.1,258.0 L1031.4,253.4 L1033.8,248.7 L1036.1,244.0 L1038.6,239.4 L1041.1,234.7 L1043.6,230.1 L1046.2,225.5 L1048.8,220.9 L1051.5,216.4 L1054.2,211.8 L1057.0,207.4 L1059.8,203.0 L1062.8,198.6 L1065.7,194.3 L1068.8,190.1 L1071.8,186.0 L1075.0,181.9 L1078.2,178.0 L1081.5,174.2 L1084.9,170.6 L1088.3,167.3 L1091.9,164.2 L1095.5,161.5 L1099.1,159.1 L1102.9,157.1 L1106.7,155.5 L1110.6,154.4 L1114.6,153.8 L1118.7,153.6 L1122.8,153.8 L1126.9,154.5 L1131.0,155.5 L1135.1,156.8 L1139.3,158.5 L1143.3,160.6 L1147.4,162.9 L1151.4,165.4 L1155.3,168.2 L1159.1,171.3 L1162.9,174.5 L1166.6,177.9 L1170.2,181.5 L1173.8,185.2 L1177.3,189.0 L1180.6,192.9 L1183.9,196.9 L1187.2,201.0 L1190.3,205.0 L1193.3,209.1 L1196.3,213.2 L1199.2,217.4 L1202.0,221.5 L1204.7,225.7 L1207.4,229.9 L1210.0,234.2 L1212.5,238.4 L1215.0,242.7 L1217.5,247.0 L1219.8,251.4 L1222.2,255.7 L1224.5,260.0 L1226.8,264.4 L1229.0,268.8 L1231.2,273.2 L1233.4,277.6 L1235.5,282.0 L1237.7,286.5 L1239.8,290.9 L1241.9,295.4 L1244.0,299.8 L1246.1,304.3 L1248.2,308.8 L1250.3,313.3 L1252.4,317.8 L1254.5,322.2 L1256.5,326.7 L1258.6,331.3 L1260.7,335.8 L1262.8,340.3 L1264.8,344.8 L1266.9,349.3 L1269.0,353.8 L1271.0,358.4 L1273.1,362.9 L1275.1,367.4 L1277.2,372.0 L1279.2,376.5 L1281.3,381.1 L1283.4,385.6 L1285.4,390.2 L1287.5,394.7 L1289.6,399.3 L1291.6,403.8 L1293.7,408.4 L1295.8,412.9 L1297.8,417.5 L1299.9,422.0 L1302.0,426.5 L1304.1,431.1 L1306.2,435.6 L1308.3,440.2 L1310.4,444.7 L1312.5,449.2 L1314.6,453.8 L1316.7,458.3 L1318.9,462.8 L1321.0,467.4 L1323.2,471.9 L1325.3,476.4 L1327.5,480.9 L1329.7,485.4 L1331.8,489.9 L1334.0,494.4 L1336.2,498.9 L1338.4,503.3 L1340.7,507.8 L1342.9,512.3 L1345.1,516.7 L1347.4,521.2 L1349.6,525.6 L1351.9,530.0 L1354.2,534.5 L1356.5,538.9 L1358.8,543.3 L1361.2,547.7 L1363.5,552.1 L1365.9,556.4 L1368.3,560.8 L1370.7,565.2 L1373.1,569.5 L1375.5,573.8 L1377.9,578.2 L1380.4,582.5 L1382.9,586.8 L1385.3,591.0 L1387.9,595.3 L1390.4,599.6 L1392.9,603.8 L1395.5,608.0 L1398.1,612.2 L1400.7,616.4 L1403.3,620.6 L1405.9,624.8 L1408.6,628.9 L1411.3,633.1 L1414.0,637.2 L1416.7,641.3 L1419.5,645.4 L1422.3,649.5 L1425.0,653.5 L1427.9,657.6 L1430.7,661.6 L1433.6,665.6 L1436.5,669.5 L1439.4,673.5 L1442.3,677.5 L1445.3,681.4 L1448.3,685.3 L1451.3,689.2 L1454.4,693.0 L1457.4,696.9 L1460.5,700.7 L1463.6,704.5 L1466.8,708.3 L1470.0,712.0 L1473.2,715.7 L1476.4,719.4 L1479.7,723.1 L1483.0,726.8 L1486.3,730.4 L1489.7,734.0 L1493.1,737.6 L1496.5,741.2 L1500.0,744.7 L1503.5,748.3 L1507.0,751.8 L1510.5,755.2 L1514.1,758.7 L1517.7,762.1 L1521.3,765.4 L1525.0,768.8 L1528.7,772.1 L1532.4,775.4 L1536.2,778.7 L1540.0,781.9 L1543.8,785.1 L1547.6,788.3 L1551.5,791.5 L1555.4,794.6 L1559.3,797.7 L1563.2,800.7 L1567.2,803.8 L1571.2,806.7 L1575.2,809.7 L1579.3,812.6 L1583.3,815.5 L1587.4,818.4 L1591.5,821.2 L1595.7,824.0 L1599.8,826.7 L1604.0,829.4 L1608.2,832.1 L1612.5,834.7 L1616.7,837.3 L1621.0,839.9 L1625.3,842.4 L1629.6,844.9 L1633.9,847.3 L1638.2,849.7 L1642.6,852.1 L1647.0,854.4 L1651.4,856.7 L1655.8,859.0 L1660.2,861.2 L1664.7,863.3 L1669.2,865.4 L1673.7,867.5 L1678.2,869.5 L1682.7,871.5 L1687.2,873.5 L1691.8,875.4 L1696.3,877.3 L1700.9,879.1 L1705.5,880.9 L1710.1,882.7 L1714.7,884.4 L1719.3,886.2 L1724.0,887.8 L1728.6,889.5 L1733.3,891.1 L1738.0,892.7 L1742.7,894.3 L1747.4,895.8 L1752.1,897.3 L1756.8,898.8 L1761.5,900.3 L1766.2,901.7 L1771.0,903.2 L1775.7,904.6 L1780.5,905.9 L1785.3,907.3 L1790.0,908.7 L1794.8,910.0 L1799.6,911.3 L1804.4,912.6 L1809.2,913.9 L1814.0,915.2 L1818.8,916.4 L1823.6,917.7 L1828.4,918.9 L1833.2,920.2 L1838.1,921.4 L1842.9,922.6 L1847.7,923.9 L1852.6,925.1 L1857.4,926.3 L1862.2,927.5 L1867.1,928.7 L1871.9,929.9 L1876.7,931.1 L1881.6,932.3 L1886.4,933.5 L1891.2,934.7 L1896.1,935.9 L1900.9,937.1 L1905.7,938.4 L1910.6,939.6 L1915.4,940.8 L1920.2,942.1 L1925.0,943.3 L1929.8,944.6 L1934.6,945.9 L1939.5,947.2 L1944.3,948.5 L1949.1,949.8 L1953.8,951.2 L1958.6,952.5 L1963.4,953.9 L1968.2,955.3 L1972.9,956.7 L1977.7,958.1 L1982.5,959.6 L1987.2,961.0 L1991.9,962.5 L1996.7,964.1 L2001.4,965.6 L2006.1,967.2 L2010.8,968.8" stroke-width="4.8" stroke="#2a2a2a" stroke-dasharray="0 19.5 4.5 5.5 4.5 10"/>
<path d="M227.6,653.5 L232.7,653.7 L237.8,654.0 L242.9,654.2 L248.0,654.5 L253.1,654.7 L258.1,654.8 L263.1,655.0 L268.2,655.2 L273.2,655.3 L278.2,655.5 L283.1,655.6 L288.1,655.7 L293.1,655.8 L298.0,655.9 L303.0,656.0 L307.9,656.1 L312.9,656.1 L317.8,656.2 L322.7,656.3 L327.6,656.3 L332.5,656.4 L337.5,656.4 L342.4,656.5 L347.3,656.5 L352.1,656.6 L357.0,656.6 L361.9,656.7 L366.8,656.8 L371.7,656.8 L376.6,656.9 L381.5,657.0 L386.4,657.1 L391.3,657.2" stroke-width="5.5" stroke="#1a1a1a"/>
</g>
<g class="lab">
<text x="552" y="374.5">9 nm</text>
<text x="552" y="516">22 nm</text>
<text x="1178" y="741">48 nm</text>
<text x="1534" y="741">99 nm</text>
</g>
</g>
</svg>
</body>
</html>
